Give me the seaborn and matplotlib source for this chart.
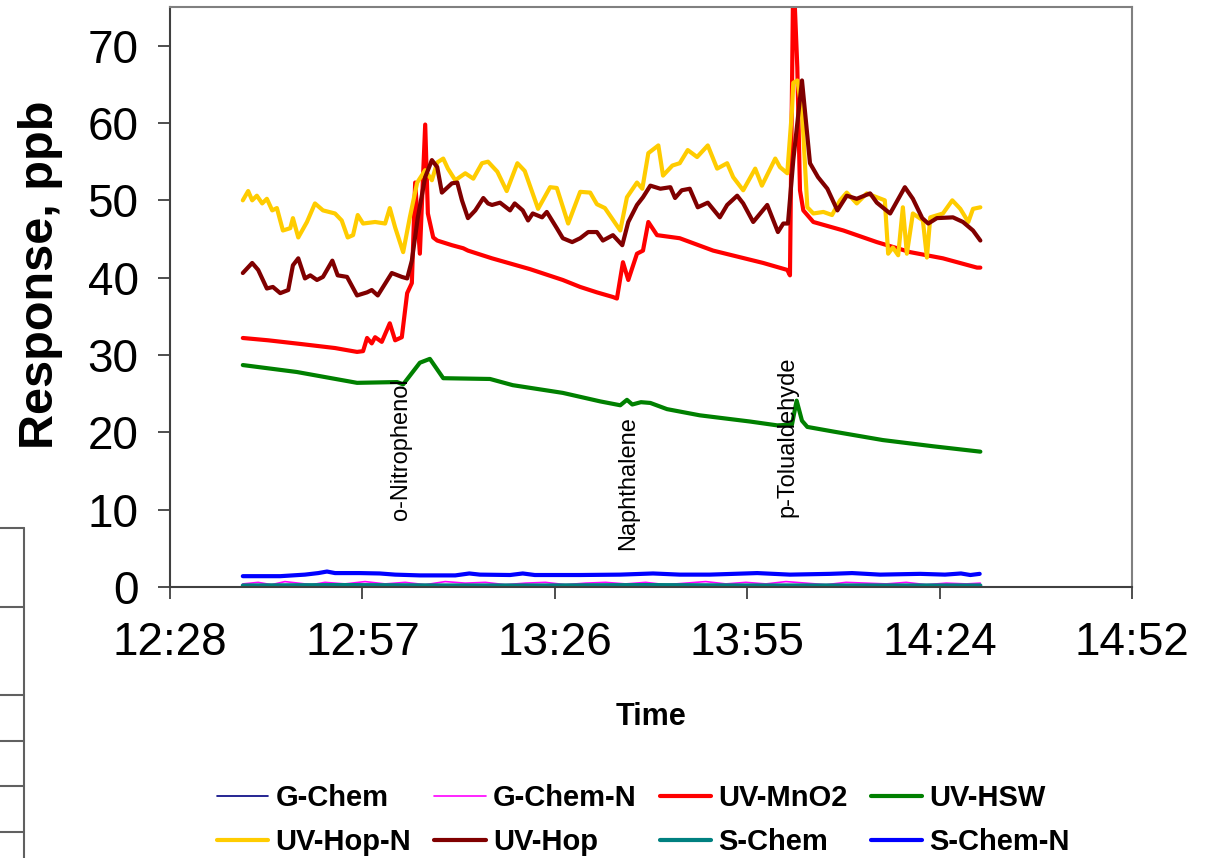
import numpy as np
import pandas as pd
import matplotlib
matplotlib.use("Agg")
import matplotlib.pyplot as plt
import seaborn as sns
from matplotlib.lines import Line2D

# ---------------- data (time in minutes after 12:00) ----------------
tick_pos = [28.8, 57.6, 86.4, 115.2, 144.0, 172.8]
tick_labels = ["12:28", "12:57", "13:26", "13:55", "14:24", "14:52"]
y_ticks = [0, 10, 20, 30, 40, 50, 60, 70]

hsw_t = [39.7, 47.8, 56.8, 62.8, 63.7, 66.2, 67.7, 69.7, 76.7, 80.1, 87.6, 93.2, 96.2,
         97.2, 98.0, 99.3, 100.7, 103.2, 108.1, 115.6, 119.7, 121.9, 122.6, 123.4, 124.2,
         128.1, 135.5, 143.0, 150.1]
hsw_v = [28.7, 27.8, 26.4, 26.5, 26.2, 29.0, 29.5, 27.0, 26.9, 26.1, 25.1, 24.0, 23.5,
         24.2, 23.6, 23.9, 23.8, 23.0, 22.2, 21.4, 20.9, 21.0, 24.1, 21.5, 20.7,
         20.1, 19.0, 18.2, 17.5]

mno2_t = [39.7, 43.5, 48.6, 53.5, 56.8, 57.7, 58.3, 59.0, 59.5, 60.5, 61.7, 62.5, 63.5,
          64.3, 65.0, 65.5, 66.2, 67.0, 67.4, 68.2, 68.8, 71.0, 72.7, 73.4, 77.0, 82.7,
          87.6, 90.2, 92.7, 95.1, 95.7, 96.6, 97.4, 98.7, 99.6, 100.4, 101.7, 105.1, 110.1,
          117.6, 121.2, 121.6, 122.1, 122.7, 123.1, 123.6, 125.1, 129.6, 134.6, 139.6,
          144.5, 149.6, 150.1]
mno2_v = [32.2, 31.9, 31.4, 30.9, 30.4, 30.5, 32.2, 31.5, 32.3, 31.7, 34.1, 31.9, 32.3,
          38.0, 39.3, 52.3, 43.1, 59.8, 48.3, 45.2, 44.8, 44.2, 43.8, 43.5, 42.5, 41.1,
          39.7, 38.8, 38.1, 37.5, 37.3, 42.0, 39.7, 43.1, 43.5, 47.2, 45.5, 45.1, 43.5,
          41.9, 41.0, 40.3, 80.0, 67.2, 51.3, 48.7, 47.2, 46.1, 44.6, 43.3,
          42.5, 41.3, 41.3]

hopn_t = [39.7, 40.5, 41.1, 41.8, 42.6, 43.3, 44.1, 44.8, 45.7, 46.8, 47.2, 48.0, 49.3,
          50.5, 51.7, 53.5, 54.5, 55.4, 56.2, 56.9, 57.7, 59.5, 61.0, 61.7, 62.5, 63.7,
          64.7, 65.8, 67.0, 68.0, 68.8, 69.7, 70.4, 71.5, 73.0, 74.2, 75.5, 76.4, 77.8,
          79.2, 80.8, 81.9, 83.9, 85.7, 86.7, 88.4, 90.2, 91.7, 92.7, 93.9, 96.2, 97.2,
          98.7, 99.5, 100.4, 101.9, 102.6, 104.0, 105.1, 106.3, 107.7, 109.3, 110.7, 112.2,
          113.1, 114.6, 116.4, 117.4, 119.4, 120.1, 121.2, 121.9, 122.1, 122.7, 123.4,
          124.2, 125.1, 126.6, 127.9, 129.1, 130.1, 131.6, 133.1, 134.6, 135.8, 136.3,
          137.0, 137.8, 138.5, 139.1, 140.0, 141.5, 142.1, 142.6, 144.5, 145.9, 147.1,
          148.3, 149.0, 150.1]
hopn_v = [50.0, 51.2, 50.0, 50.6, 49.6, 50.2, 48.7, 49.0, 46.1, 46.4, 47.7, 45.2, 47.2,
          49.6, 48.7, 48.3, 47.4, 45.2, 45.5, 48.1, 47.0, 47.2, 47.0, 49.0, 46.5, 43.3,
          47.8, 52.3, 53.9, 52.6, 54.9, 55.4, 54.1, 52.6, 53.5, 52.8, 54.8, 55.0, 53.7,
          51.2, 54.8, 53.8, 48.9, 51.7, 51.6, 47.0, 51.1, 51.0, 49.5, 49.0, 46.1, 50.4,
          52.3, 51.5, 56.1, 57.1, 53.2, 54.5, 54.8, 56.5, 55.6, 57.1, 54.1, 54.8,
          53.0, 51.3, 54.1, 51.9, 55.4, 54.3, 53.5, 61.6, 65.2, 65.5, 61.6,
          49.1, 48.3, 48.5, 48.1, 50.0, 51.0, 49.6, 50.9, 50.4, 50.0, 43.1,
          43.9, 42.9, 49.1, 43.1, 48.3, 47.4, 42.6, 47.8, 48.3, 50.0, 48.9,
          47.2, 48.9, 49.1]

hop_t = [39.7, 41.1, 42.0, 43.3, 44.2, 45.3, 46.5, 47.2, 48.0, 49.0, 49.8, 50.8, 51.7,
         53.1, 53.9, 55.3, 56.8, 58.3, 59.0, 59.9, 62.0, 63.5, 64.3, 65.0, 65.9, 67.0,
         68.0, 68.8, 69.5, 71.0, 71.8, 72.5, 73.4, 74.5, 75.7, 76.4, 77.0, 78.2, 79.7,
         80.4, 81.6, 82.4, 83.1, 84.5, 85.2, 86.7, 87.6, 89.0, 90.2, 91.4, 92.7, 93.6,
         95.1, 96.5, 97.4, 98.7, 99.6, 100.7, 102.2, 103.7, 104.4, 105.4, 106.6, 107.8,
         109.3, 111.1, 112.2, 113.7, 114.6, 116.1, 118.2, 119.8, 120.6, 121.3, 122.1,
         123.4, 124.6, 125.8, 127.2, 128.7, 130.1, 131.6, 133.6, 134.6, 136.6, 138.8,
         140.0, 141.4, 142.3, 143.6, 146.0, 147.5, 149.0, 150.1]
hop_v = [40.6, 41.9, 41.0, 38.6, 38.8, 38.0, 38.4, 41.6, 42.5, 39.9, 40.3, 39.7, 40.1,
         42.2, 40.3, 40.1, 37.7, 38.1, 38.4, 37.7, 40.6, 40.1, 39.9, 42.2, 47.8, 53.0,
         55.2, 54.3, 51.0, 52.2, 52.3, 50.0, 47.7, 48.7, 50.3, 49.6, 49.4, 49.7, 48.7,
         49.6, 48.7, 47.4, 48.3, 47.8, 48.5, 46.4, 45.1, 44.6, 45.1, 45.9, 45.9, 44.8,
         45.5, 44.2, 47.2, 49.4, 50.4, 51.9, 51.5, 51.7, 50.3, 51.3, 51.5, 49.1,
         49.7, 47.8, 49.4, 50.6, 49.6, 47.2, 49.4, 45.9, 47.0, 47.0, 55.2,
         65.5, 54.8, 53.0, 51.5, 48.7, 50.6, 50.2, 50.9, 49.7, 48.3, 51.7,
         50.2, 47.7, 47.0, 47.7, 47.8, 47.2, 46.1, 44.8]

schemn_t = [39.7, 45.3, 49.0, 51.0, 52.3, 53.5, 57.2, 60.2, 62.5, 66.2, 71.5, 73.6, 75.2,
            79.7, 81.6, 83.4, 90.2, 96.2, 101.1, 105.1, 109.6, 116.7, 121.6, 127.6, 130.9,
            135.1, 141.1, 144.8, 147.2, 148.6, 150.0]
schemn_v = [1.4, 1.4, 1.6, 1.8, 2.0, 1.8, 1.8, 1.75, 1.6, 1.5, 1.5, 1.75, 1.6,
            1.55, 1.75, 1.55, 1.55, 1.6, 1.75, 1.6, 1.6, 1.8, 1.6, 1.7, 1.8,
            1.6, 1.7, 1.6, 1.75, 1.55, 1.7]

gchemn_t = [39.7, 42, 44, 46, 48, 50, 52, 55, 58, 61, 64, 67, 70, 73, 76, 79, 82, 85, 88,
            91, 94, 97, 100, 103, 106, 109, 112, 115, 118, 121, 124, 127, 130, 133, 136,
            139, 142, 145, 148, 150.1]
gchemn_v = [0.4, 0.6, 0.3, 0.7, 0.5, 0.3, 0.6, 0.4, 0.7, 0.4, 0.6, 0.3, 0.7, 0.5, 0.6, 0.3,
            0.5, 0.6, 0.3, 0.5, 0.6, 0.4, 0.6, 0.3, 0.5, 0.7, 0.4, 0.6, 0.4, 0.7, 0.5, 0.3,
            0.6, 0.5, 0.4, 0.6, 0.3, 0.5, 0.4, 0.5]

schem_t = [39.7, 55.0, 70.0, 85.0, 100.0, 115.0, 130.0, 150.1]
schem_v = [0.2, 0.25, 0.2, 0.2, 0.25, 0.2, 0.2, 0.2]

gchem_t = [39.7, 60.0, 90.0, 120.0, 150.1]
gchem_v = [0.1, 0.1, 0.1, 0.1, 0.1]

series_names = ["G-Chem", "G-Chem-N", "UV-MnO2", "UV-HSW",
                "UV-Hop-N", "UV-Hop", "S-Chem", "S-Chem-N"]
series_data = [(gchem_t, gchem_v), (gchemn_t, gchemn_v), (mno2_t, mno2_v), (hsw_t, hsw_v),
               (hopn_t, hopn_v), (hop_t, hop_v), (schem_t, schem_v), (schemn_t, schemn_v)]
series_colors = ["#000080", "#FF00FF", "#FF0000", "#008000",
                 "#FFCC00", "#800000", "#008080", "#0000FF"]
series_widths = [1.2, 1.2, 3.0, 3.0, 3.0, 3.0, 3.0, 3.0]

annot_text = ["o-Nitrophenol", "Naphthalene", "p-Tolualdehyde"]
annot_x = [63.4, 97.4, 121.2]
annot_y = [8.7, 4.8, 9.0]

# ---------------- plot ----------------
sns.set_style("white")
plt.rcParams['font.family'] = ['Liberation Sans', 'DejaVu Sans']
plt.rcParams['text.color'] = 'black'
plt.rcParams['axes.labelcolor'] = 'black'

fig = plt.figure(figsize=(12.14, 8.58), dpi=100)
ax = fig.add_axes([170/1214, 1-587/858, (1132-170)/1214, (587-7)/858])

for name, (t, v), c, w in zip(series_names, series_data, series_colors, series_widths):
    df = pd.DataFrame({"t": t, "v": v})
    sns.lineplot(data=df, x="t", y="v", color=c, linewidth=w, label=name,
                 estimator=None, sort=False, ax=ax, solid_joinstyle='round')

ax.set_xlim(tick_pos[0], tick_pos[-1])
ax.set_ylim(0, 75)
ax.set_xticks(tick_pos)
ax.set_xticklabels(tick_labels)
ax.set_yticks(y_ticks)

ax.tick_params(axis='both', direction='out', length=8.6, width=1.3, color='#404040',
               labelsize=33, labelcolor='black')
ax.tick_params(axis='y', pad=14)
ax.tick_params(axis='x', pad=16)
ax.tick_params(left=True, bottom=True)

for s in ['left', 'bottom']:
    ax.spines[s].set_color('#404040')
    ax.spines[s].set_linewidth(1.5)
for s in ['top', 'right']:
    ax.spines[s].set_visible(True)
    ax.spines[s].set_color('#808080')
    ax.spines[s].set_linewidth(1.5)

ax.set_ylabel("Response, ppb", fontsize=35, fontweight='bold', va='center', color='black')
ax.yaxis.set_label_coords(-0.135, 0.538)
ax.set_xlabel("Time", fontsize=22, fontweight='bold', va='center', color='black')
ax.xaxis.set_label_coords(0.5, -0.224)

for txt, x, y in zip(annot_text, annot_x, annot_y):
    ax.text(x, y, txt, rotation=90, ha='center', va='bottom', fontsize=17, color='black')

handles, labels = ax.get_legend_handles_labels()
ax.get_legend().remove()
order = [0, 4, 1, 5, 2, 6, 3, 7]   # row-wise fill like the original
leg = fig.legend([handles[i] for i in order], [labels[i] for i in order],
                 loc='center', bbox_to_anchor=(0.530, 0.044), ncol=4,
                 frameon=False, prop={'weight': 'bold', 'size': 21},
                 handlelength=1.75, handletextpad=0.25, columnspacing=0.8,
                 labelspacing=0.55)
for txt in leg.get_texts():
    txt.set_color('black')

# fragment of a neighbouring table at the left edge of the page
frag_kw = dict(color='#606060', linewidth=1.5, transform=fig.transFigure)
fig.add_artist(Line2D([24/1214, 24/1214], [0, 1-528/858], **frag_kw))
for yy in [528, 607, 695, 741, 786, 832]:
    fig.add_artist(Line2D([0, 24/1214], [1-yy/858, 1-yy/858], **frag_kw))

fig.savefig("out.png", dpi=100)
